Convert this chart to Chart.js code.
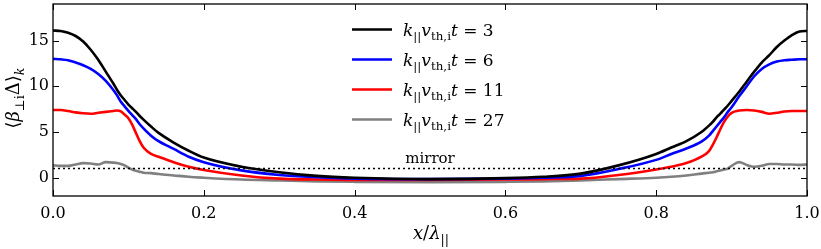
<!DOCTYPE html>
<html>
<head>
<meta charset="utf-8">
<script src="https://cdn.jsdelivr.net/npm/chart.js@4/dist/chart.umd.min.js"></script>
<style>
  html, body { margin: 0; padding: 0; background: #fff; }
  #wrap { width: 821px; height: 249px; }
</style>
</head>
<body>
<div id="wrap"><canvas id="grafico" width="821" height="249"></canvas></div>
<script>
// positions along the box, x / lambda
var xs = [0, 0.01, 0.02, 0.03, 0.04, 0.05, 0.06, 0.07, 0.08, 0.085, 0.09, 0.095, 0.10, 0.105, 0.11, 0.115, 0.12, 0.13, 0.14, 0.16, 0.18, 0.20, 0.25, 0.30, 0.35, 0.40, 0.50, 0.60, 0.65, 0.70, 0.75, 0.80, 0.82, 0.84, 0.86, 0.87, 0.875, 0.88, 0.885, 0.89, 0.895, 0.90, 0.91, 0.92, 0.93, 0.94, 0.95, 0.96, 0.97, 0.98, 0.99, 1.0];

var t3  = [16.1, 16.05, 15.85, 15.5, 14.9, 14.0, 12.9, 11.6, 10.3, 9.6, 9.0, 8.5, 8.0, 7.6, 7.2, 6.75, 6.35, 5.6, 4.9, 3.85, 2.95, 2.2, 1.2, 0.6, 0.2, 0.0, -0.15, -0.05, 0.1, 0.45, 1.35, 2.6, 3.3, 4.0, 5.0, 5.7, 6.1, 6.6, 7.0, 7.45, 7.9, 8.4, 9.4, 10.5, 11.6, 12.6, 13.4, 14.3, 15.0, 15.6, 16.0, 16.05];
var t6  = [13.0, 12.95, 12.85, 12.6, 12.3, 11.9, 11.35, 10.6, 9.6, 9.0, 8.3, 7.8, 7.3, 6.85, 6.4, 5.85, 5.4, 4.6, 4.0, 3.15, 2.3, 1.7, 0.8, 0.3, 0.05, -0.1, -0.15, -0.1, 0.0, 0.2, 0.95, 1.95, 2.6, 3.2, 3.95, 4.6, 5.1, 5.6, 6.1, 6.6, 7.2, 7.7, 8.9, 10.0, 11.1, 11.9, 12.4, 12.7, 12.85, 12.9, 12.95, 12.95];
var t11 = [7.4, 7.4, 7.3, 7.15, 7.05, 7.0, 7.1, 7.2, 7.3, 7.35, 7.25, 6.9, 6.5, 5.8, 4.9, 4.0, 3.3, 2.6, 2.3, 1.7, 1.2, 0.85, 0.25, -0.1, -0.2, -0.25, -0.25, -0.2, -0.15, -0.1, 0.3, 0.9, 1.2, 1.6, 2.3, 2.9, 3.6, 4.4, 5.3, 6.1, 6.7, 7.1, 7.35, 7.4, 7.35, 7.2, 7.0, 7.1, 7.25, 7.3, 7.3, 7.3];
var t27 = [1.35, 1.3, 1.3, 1.45, 1.6, 1.55, 1.45, 1.7, 1.65, 1.6, 1.5, 1.35, 1.1, 0.9, 0.75, 0.65, 0.55, 0.5, 0.4, 0.25, 0.1, 0.0, -0.2, -0.3, -0.4, -0.45, -0.5, -0.45, -0.4, -0.3, -0.15, 0.0, 0.1, 0.25, 0.45, 0.55, 0.6, 0.7, 0.8, 0.9, 1.0, 1.3, 1.7, 1.4, 1.2, 1.3, 1.5, 1.5, 1.45, 1.45, 1.4, 1.45];

var times = ['3', '6', '11', '27'];
var cores = ['#000000', '#0000ff', '#ff0000', '#808080'];
var mirrorLevel = 1;

var xTicks = [0.0, 0.2, 0.4, 0.6, 0.8, 1.0];
var yTicks = [0, 5, 10, 15];

var serif = "'DejaVu Serif', 'Liberation Serif', serif";

function pontos(ys) {
  return xs.map(function (x, i) { return { x: x, y: ys[i] }; });
}

var series = [t3, t6, t11, t27];
var datasets = series.map(function (ys, i) {
  return {
    label: times[i],
    data: pontos(ys),
    borderColor: cores[i],
    borderWidth: 2.6,
    pointRadius: 0,
    fill: false,
    cubicInterpolationMode: 'monotone'
  };
});
// linha do mirror, por baixo das curvas
datasets.unshift({
  label: 'mirror',
  data: [{ x: 0, y: mirrorLevel }, { x: 1, y: mirrorLevel }],
  borderColor: '#000',
  borderWidth: 1.5,
  borderDash: [2, 3],
  pointRadius: 0,
  fill: false
});

// texto com subscritos
function rich(ctx, parts, size) {
  var w = 0;
  parts.forEach(function (p) {
    var s = p.sub ? size * 0.7 : size;
    ctx.font = (p.it ? 'italic ' : '') + s + 'px ' + serif;
    w += ctx.measureText(p.t).width;
  });
  return w;
}
function drawRich(ctx, parts, x, y, size) {
  parts.forEach(function (p) {
    var s = p.sub ? size * 0.7 : size;
    ctx.font = (p.it ? 'italic ' : '') + s + 'px ' + serif;
    ctx.fillText(p.t, x, p.sub ? y + size * 0.25 : y);
    x += ctx.measureText(p.t).width;
  });
}

var enfeites = {
  id: 'enfeites',
  afterDraw: function (chart) {
    var ctx = chart.ctx;
    var a = chart.chartArea;
    var sx = chart.scales.x, sy = chart.scales.y;
    ctx.save();
    ctx.strokeStyle = '#000';
    ctx.fillStyle = '#000';
    ctx.lineWidth = 1.3;
    ctx.strokeRect(a.left, a.top, a.right - a.left, a.bottom - a.top);

    // ticks para dentro
    ctx.lineWidth = 1;
    ctx.beginPath();
    xTicks.forEach(function (v) {
      var p = Math.round(sx.getPixelForValue(v)) + 0.5;
      ctx.moveTo(p, a.bottom); ctx.lineTo(p, a.bottom - 6);
      ctx.moveTo(p, a.top); ctx.lineTo(p, a.top + 6);
    });
    yTicks.forEach(function (v) {
      var p = Math.round(sy.getPixelForValue(v)) + 0.5;
      ctx.moveTo(a.left, p); ctx.lineTo(a.left + 6, p);
      ctx.moveTo(a.right, p); ctx.lineTo(a.right - 6, p);
    });
    ctx.stroke();

    // mirror
    ctx.textBaseline = 'alphabetic';
    ctx.textAlign = 'center';
    ctx.font = '15px ' + serif;
    ctx.fillText('mirror', sx.getPixelForValue(0.5), sy.getPixelForValue(mirrorLevel) - 6);

    // legenda
    ctx.textAlign = 'left';
    chart.data.datasets.forEach(function (ds) {
      var i = times.indexOf(ds.label);
      if (i < 0) return;
      var yy = 29.5 + i * 30;
      ctx.strokeStyle = ds.borderColor;
      ctx.lineWidth = 2.6;
      ctx.beginPath();
      ctx.moveTo(352, yy); ctx.lineTo(392, yy);
      ctx.stroke();
      drawRich(ctx, [
        { t: 'k', it: true }, { t: '||', sub: true },
        { t: 'v', it: true }, { t: 'th,i', sub: true },
        { t: 't', it: true }, { t: ' = ' + ds.label }
      ], 403, yy + 6, 17);
    });

    // titulo eixo x
    var xl = [{ t: 'x', it: true }, { t: '/' }, { t: 'λ', it: true }, { t: '||', sub: true }];
    var wx = rich(ctx, xl, 18);
    drawRich(ctx, xl, 431 - wx / 2, 239, 18);

    // titulo eixo y
    var yl = [{ t: '⟨' }, { t: 'β', it: true }, { t: '⊥i', sub: true }, { t: 'Δ' }, { t: '⟩' }, { t: 'k', it: true, sub: true }];
    var wy = rich(ctx, yl, 18);
    ctx.translate(19, 98);
    ctx.rotate(-Math.PI / 2);
    drawRich(ctx, yl, -wy / 2, 0, 18);
    ctx.restore();
  }
};

var options = {
  responsive: false,
  animation: false,
  layout: { padding: { left: 0, right: 14, top: 4, bottom: 0 } },
  scales: {
    x: {
      type: 'linear',
      min: 0,
      max: 1,
      afterBuildTicks: function (s) { s.ticks = xTicks.map(function (v) { return { value: v }; }); },
      afterFit: function (s) { s.height = 53; s.paddingLeft = 0; s.paddingRight = 0; },
      grid: { display: false, drawTicks: false },
      border: { display: false },
      ticks: {
        padding: 8,
        color: '#000',
        font: { family: serif, size: 16 },
        callback: function (v) { return Number(v).toFixed(1); },
        maxRotation: 0
      }
    },
    y: {
      min: -2,
      max: 19,
      afterBuildTicks: function (s) { s.ticks = yTicks.map(function (v) { return { value: v }; }); },
      afterFit: function (s) { s.width = 53; s.paddingTop = 0; s.paddingBottom = 0; },
      grid: { display: false, drawTicks: false },
      border: { display: false },
      ticks: {
        padding: 4,
        color: '#000',
        font: { family: serif, size: 16 }
      }
    }
  },
  plugins: {
    legend: { display: false },
    tooltip: { enabled: false }
  }
};

var ctx = document.getElementById('grafico').getContext('2d');
var meuGrafico = new Chart(ctx, {
  type: 'line',
  data: { datasets: datasets },
  options: options,
  plugins: [enfeites]
});
</script>
</body>
</html>
